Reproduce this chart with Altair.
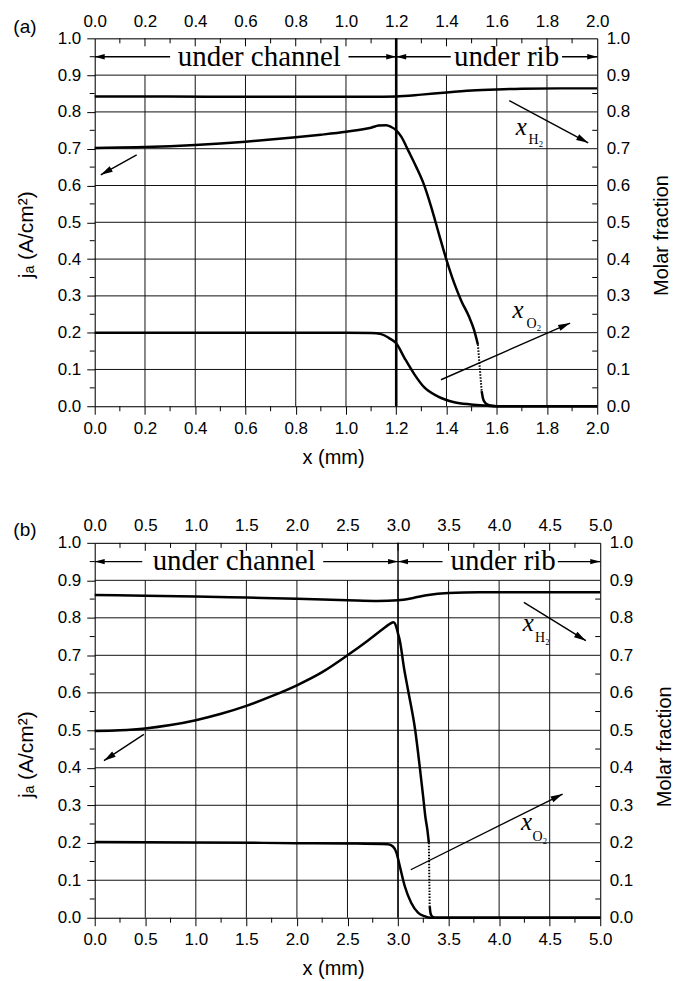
import math
import altair as alt
import pandas as pd

# ---------------- shared axis values ----------------
y_major = [0.0, 0.1, 0.2, 0.3, 0.4, 0.5, 0.6, 0.7, 0.8, 0.9, 1.0]
y_minor = [0.05, 0.15, 0.25, 0.35, 0.45, 0.55, 0.65, 0.75, 0.85, 0.95]

# ---------------- panel (a) ----------------
a_xmajor = [0.0, 0.2, 0.4, 0.6, 0.8, 1.0, 1.2, 1.4, 1.6, 1.8, 2.0]
a_xminor = [0.1, 0.3, 0.5, 0.7, 0.9, 1.1, 1.3, 1.5, 1.7, 1.9]
a_boundary = 1.2

a_h2_x = [0.0, 0.3, 0.6, 0.9, 1.1, 1.2, 1.3, 1.4, 1.5, 1.6, 1.7, 1.85, 2.0]
a_h2_y = [0.842, 0.842, 0.841, 0.841, 0.841, 0.842, 0.847, 0.853, 0.858, 0.861, 0.863, 0.864, 0.864]

a_j_x = [0.0, 0.1, 0.2, 0.3, 0.4, 0.5, 0.6, 0.7, 0.8, 0.9, 1.0, 1.05, 1.1, 1.13, 1.16, 1.18,
         1.2, 1.22, 1.25, 1.28, 1.31, 1.34, 1.37, 1.40, 1.43, 1.46, 1.49, 1.51, 1.525]
a_j_y = [0.702, 0.703, 0.705, 0.707, 0.710, 0.714, 0.719, 0.725, 0.731, 0.738, 0.746, 0.751, 0.757,
         0.763, 0.764, 0.759, 0.750, 0.733, 0.692, 0.650, 0.603, 0.540, 0.468, 0.398, 0.336, 0.285,
         0.243, 0.207, 0.168]
a_jdot_x = [1.525, 1.540]
a_jdot_y = [0.168, 0.041]
a_jtail_x = [1.540, 1.545, 1.552, 1.562, 1.575, 1.6, 2.0]
a_jtail_y = [0.041, 0.022, 0.011, 0.005, 0.002, 0.0, 0.0]

a_o2_x = [0.0, 0.5, 1.0, 1.1, 1.14, 1.17, 1.2, 1.233, 1.273, 1.312, 1.365, 1.431, 1.497, 1.55, 1.6, 2.0]
a_o2_y = [0.200, 0.200, 0.200, 0.199, 0.196, 0.186, 0.171, 0.131, 0.086, 0.051, 0.027, 0.011, 0.005,
          0.002, 0.0, 0.0]

a_arrow_x0 = [0.30, 1.01, 1.417, 1.86, 0.167, 1.65, 1.378]
a_arrow_y0 = [0.95, 0.95, 0.95, 0.95, 0.683, 0.831, 0.072]
a_arrow_x1 = [0.0, 1.2, 1.2, 2.0, 0.024, 1.964, 1.892]
a_arrow_y1 = [0.95, 0.95, 0.95, 0.95, 0.629, 0.716, 0.226]

a_region_text = ["under channel", "under rib"]
a_region_x = [0.655, 1.639]
a_region_y = [0.924, 0.924]

a_sp_x = [1.676, 1.663]
a_sp_y = [0.737, 0.239]
a_sub_text = ["H\u2082", "O\u2082"]
a_sub_x = [1.726, 1.718]
a_sub_y = [0.714, 0.212]

# ---------------- panel (b) ----------------
b_xmajor = [0.0, 0.5, 1.0, 1.5, 2.0, 2.5, 3.0, 3.5, 4.0, 4.5, 5.0]
b_xminor = [0.25, 0.75, 1.25, 1.75, 2.25, 2.75, 3.25, 3.75, 4.25, 4.75]
b_boundary = 3.0

b_h2_x = [0.0, 0.5, 1.0, 1.5, 2.0, 2.5, 2.8, 3.0, 3.15, 3.3, 3.5, 3.8, 4.2, 5.0]
b_h2_y = [0.861, 0.859, 0.857, 0.854, 0.851, 0.847, 0.845, 0.847, 0.853, 0.861, 0.866, 0.868, 0.868, 0.868]

b_j_x = [0.0, 0.25, 0.5, 0.75, 1.0, 1.25, 1.5, 1.75, 2.0, 2.25, 2.5, 2.7, 2.85, 2.92, 2.955, 2.985,
         3.0, 3.018, 3.06, 3.10, 3.17, 3.23, 3.25, 3.27, 3.29, 3.305]
b_j_y = [0.498, 0.500, 0.505, 0.514, 0.527, 0.544, 0.565, 0.591, 0.620, 0.655, 0.700, 0.739, 0.770,
         0.784, 0.788, 0.774, 0.758, 0.739, 0.665, 0.606, 0.500, 0.367, 0.320, 0.270, 0.235, 0.200]
b_jdot_x = [3.305, 3.313]
b_jdot_y = [0.200, 0.031]
b_jtail_x = [3.313, 3.32, 3.33, 3.345, 3.37, 3.4, 5.0]
b_jtail_y = [0.031, 0.014, 0.006, 0.002, 0.0, 0.0, 0.0]

b_o2_x = [0.0, 1.0, 2.0, 2.5, 2.9, 2.95, 2.985, 3.018, 3.067, 3.13, 3.20, 3.264, 3.32, 5.0]
b_o2_y = [0.202, 0.201, 0.199, 0.198, 0.196, 0.190, 0.173, 0.137, 0.084, 0.040, 0.013, 0.004, 0.0, 0.0]

b_arrow_x0 = [0.47, 2.26, 3.44, 4.58, 0.486, 4.245, 3.126]
b_arrow_y0 = [0.95, 0.95, 0.95, 0.95, 0.489, 0.841, 0.128]
b_arrow_x1 = [0.0, 3.0, 3.0, 5.0, 0.091, 4.858, 4.628]
b_arrow_y1 = [0.95, 0.95, 0.95, 0.95, 0.419, 0.739, 0.330]

b_region_text = ["under channel", "under rib"]
b_region_x = [1.379, 4.04]
b_region_y = [0.927, 0.927]

b_sp_x = [4.234, 4.217]
b_sp_y = [0.766, 0.234]
b_sub_text = ["H\u2082", "O\u2082"]
b_sub_x = [4.355, 4.33]
b_sub_y = [0.735, 0.206]

SANS = "Liberation Sans"
SERIF = "Liberation Serif"
HEAD = "M0,0L-1,-0.27L-1,0.27Z"


def make_panel(W, H, xmax, xmajor, xminor, curves, dotted, boundary, bwidth,
               ax0, ay0, ax1, ay1, regions, species, tag, tag_y,
               title_x, ytitle_y, rtitle_y):
    xs = alt.Scale(domain=[0, xmax], nice=False, zero=False)
    ys = alt.Scale(domain=[0, 1], nice=False, zero=False)
    ppx = W / xmax
    ppy = H / 1.0

    def X(f):
        return alt.X(f, type="quantitative", scale=xs, axis=None)

    def Y(f):
        return alt.Y(f, type="quantitative", scale=ys, axis=None)

    grid_h = alt.Chart(pd.DataFrame({"v": y_major[1:-1]})).mark_rule(
        color="#111111", strokeWidth=1).encode(y=Y("v"))
    grid_v = alt.Chart(pd.DataFrame({"v": xmajor[1:-1]})).mark_rule(
        color="#111111", strokeWidth=1).encode(
        x=X("v"), y=alt.Y(datum=0.0, scale=ys, axis=None), y2=alt.Y2(datum=0.9))
    bline = alt.Chart(pd.DataFrame({"v": [boundary]})).mark_rule(
        color="black", strokeWidth=bwidth).encode(
        x=X("v"), y=alt.Y(datum=0.0, scale=ys, axis=None), y2=alt.Y2(datum=1.0))

    bottom_axis = alt.Axis(orient="bottom", values=xmajor, format=".1f", tickSize=8,
                           tickColor="black", domainColor="black", labelColor="black",
                           labelFontSize=17, labelFont=SANS, labelPadding=6,
                           labelFlush=False, labelOverlap=False,
                           title="x (mm)", titleFont=SANS, titleFontSize=20,
                           titleFontWeight="normal", titleColor="black",
                           titlePadding=11, titleX=title_x, grid=False)
    left_axis = alt.Axis(orient="left", values=y_major, format=".1f", tickSize=8,
                         tickColor="black", domainColor="black", labelColor="black",
                         labelFontSize=17, labelFont=SANS, labelPadding=6,
                         labelFlush=False, labelOverlap=False,
                         title="j\u2090 (A/cm\u00b2)", titleFont=SANS, titleFontSize=21,
                         titleFontWeight="normal", titleColor="black",
                         titlePadding=21, titleY=ytitle_y, grid=False)
    top_axis = alt.Axis(orient="top", values=xmajor, format=".1f", tickSize=0,
                        domainColor="black", labelColor="black",
                        labelFontSize=17, labelFont=SANS, labelPadding=8,
                        labelFlush=False, labelOverlap=False, title=None, grid=False)
    right_axis = alt.Axis(orient="right", values=y_major, format=".1f", tickSize=0,
                          domainColor="black", labelColor="black",
                          labelFontSize=17, labelFont=SANS, labelPadding=9,
                          labelFlush=False, labelOverlap=False,
                          title="Molar fraction", titleFont=SANS, titleFontSize=20,
                          titleFontWeight="normal", titleColor="black",
                          titleAngle=270, titleBaseline="top",
                          titlePadding=22, titleY=rtitle_y, grid=False)

    rows = []
    for name, xv, yv in curves:
        for a, b in zip(xv, yv):
            rows.append({"x": a, "y": b, "s": name})
    cdf = pd.DataFrame(rows)
    lines = alt.Chart(cdf).mark_line(color="black", strokeWidth=2.5,
                                     interpolate="monotone").encode(
        x=alt.X("x:Q", scale=xs, axis=bottom_axis),
        y=alt.Y("y:Q", scale=ys, axis=left_axis),
        detail="s:N")
    ddf = pd.DataFrame({"x": dotted[0], "y": dotted[1]})
    dots = alt.Chart(ddf).mark_line(color="black", strokeWidth=2,
                                    strokeDash=[1.5, 1.5]).encode(x=X("x"), y=Y("y"))

    mirror = alt.Chart(pd.DataFrame({"x": [0, xmax], "y": [0, 1]})).mark_point(
        opacity=0).encode(
        x=alt.X("x:Q", scale=xs, axis=top_axis),
        y=alt.Y("y:Q", scale=ys, axis=right_axis))

    # arrows
    adf = pd.DataFrame({"x0": ax0, "y0": ay0, "x1": ax1, "y1": ay1})
    adf["ang"] = [
        math.degrees(math.atan2(-(b1 - b0) * ppy, (a1 - a0) * ppx)) % 360
        for a0, b0, a1, b1 in zip(ax0, ay0, ax1, ay1)]
    adf["sz"] = [400 if b0 == b1 else 576 for b0, b1 in zip(ay0, ay1)]
    shafts = alt.Chart(adf).mark_rule(color="black", strokeWidth=1.4).encode(
        x=X("x0"), y=Y("y0"), x2="x1:Q", y2="y1:Q")
    heads = alt.Chart(adf).mark_point(shape=HEAD, filled=True, opacity=1,
                                      color="black", strokeWidth=0).encode(
        x=X("x1"), y=Y("y1"),
        angle=alt.Angle("ang:Q", scale=None),
        size=alt.Size("sz:Q", scale=None))

    rdf = pd.DataFrame({"t": regions[0], "x": regions[1], "y": regions[2]})
    rtext = alt.Chart(rdf).mark_text(font=SERIF, fontSize=29, align="center",
                                     baseline="alphabetic", color="black").encode(
        x=X("x"), y=Y("y"), text="t:N")

    sdf = pd.DataFrame({"x": species[0], "y": species[1], "t": ["x", "x"]})
    stext = alt.Chart(sdf).mark_text(font=SERIF, fontStyle="italic", fontSize=25,
                                     align="left", baseline="alphabetic",
                                     color="black").encode(x=X("x"), y=Y("y"), text="t:N")
    subdf = pd.DataFrame({"t": species[2], "x": species[3], "y": species[4]})
    subtext = alt.Chart(subdf).mark_text(font=SERIF, fontSize=14, align="left",
                                         baseline="alphabetic", color="black").encode(
        x=X("x"), y=Y("y"), text="t:N")

    # minor / inward ticks
    tick_l = alt.Chart(pd.DataFrame({"v": y_minor})).mark_rule(color="black").encode(
        y=Y("v"), x=alt.value(-5), x2=alt.value(0))
    tick_r = alt.Chart(pd.DataFrame({"v": y_minor})).mark_rule(color="black").encode(
        y=Y("v"), x=alt.value(W - 5), x2=alt.value(W))
    tick_b = alt.Chart(pd.DataFrame({"v": xminor})).mark_rule(color="black").encode(
        x=X("v"), y=alt.value(H), y2=alt.value(H + 5))
    tick_t = alt.Chart(pd.DataFrame({"v": xminor})).mark_rule(color="black").encode(
        x=X("v"), y=alt.value(0), y2=alt.value(5))
    tick_tm = alt.Chart(pd.DataFrame({"v": xmajor[1:-1]})).mark_rule(color="black").encode(
        x=X("v"), y=alt.value(0), y2=alt.value(8))

    tagc = alt.Chart(pd.DataFrame({"t": [tag]})).mark_text(
        font=SANS, fontSize=19, align="center", baseline="middle", color="black").encode(
        x=alt.value(-70), y=alt.value(tag_y), text="t:N")

    return alt.layer(grid_h, grid_v, bline, lines, dots, shafts, heads, rtext, stext,
                     subtext, tick_l, tick_r, tick_b, tick_t, tick_tm, tagc, mirror
                     ).properties(width=W, height=H).resolve_axis(
        x="independent", y="independent")


pa = make_panel(504, 369, 2.0, a_xmajor, a_xminor,
                [("h2", a_h2_x, a_h2_y), ("j1", a_j_x, a_j_y),
                 ("j2", a_jtail_x, a_jtail_y), ("o2", a_o2_x, a_o2_y)],
                (a_jdot_x, a_jdot_y), a_boundary, 2.6,
                a_arrow_x0, a_arrow_y0, a_arrow_x1, a_arrow_y1,
                (a_region_text, a_region_x, a_region_y),
                (a_sp_x, a_sp_y, a_sub_text, a_sub_x, a_sub_y),
                "(a)", -11, 239, 196.5, 197.3)

pb = make_panel(507, 376, 5.0, b_xmajor, b_xminor,
                [("h2", b_h2_x, b_h2_y), ("j1", b_j_x, b_j_y),
                 ("j2", b_jtail_x, b_jtail_y), ("o2", b_o2_x, b_o2_y)],
                (b_jdot_x, b_jdot_y), b_boundary, 1.4,
                b_arrow_x0, b_arrow_y0, b_arrow_x1, b_arrow_y1,
                (b_region_text, b_region_x, b_region_y),
                (b_sp_x, b_sp_y, b_sub_text, b_sub_x, b_sub_y),
                "(b)", -12.5, 239, 212, 204)

chart = alt.vconcat(pa, pb, spacing=137, bounds="flush").properties(
    padding={"left": 12, "top": 10, "right": 0, "bottom": 0}
).configure_view(stroke=None).configure(font=SANS)

chart.save("out.html", embed_options={"renderer": "svg", "actions": False})
